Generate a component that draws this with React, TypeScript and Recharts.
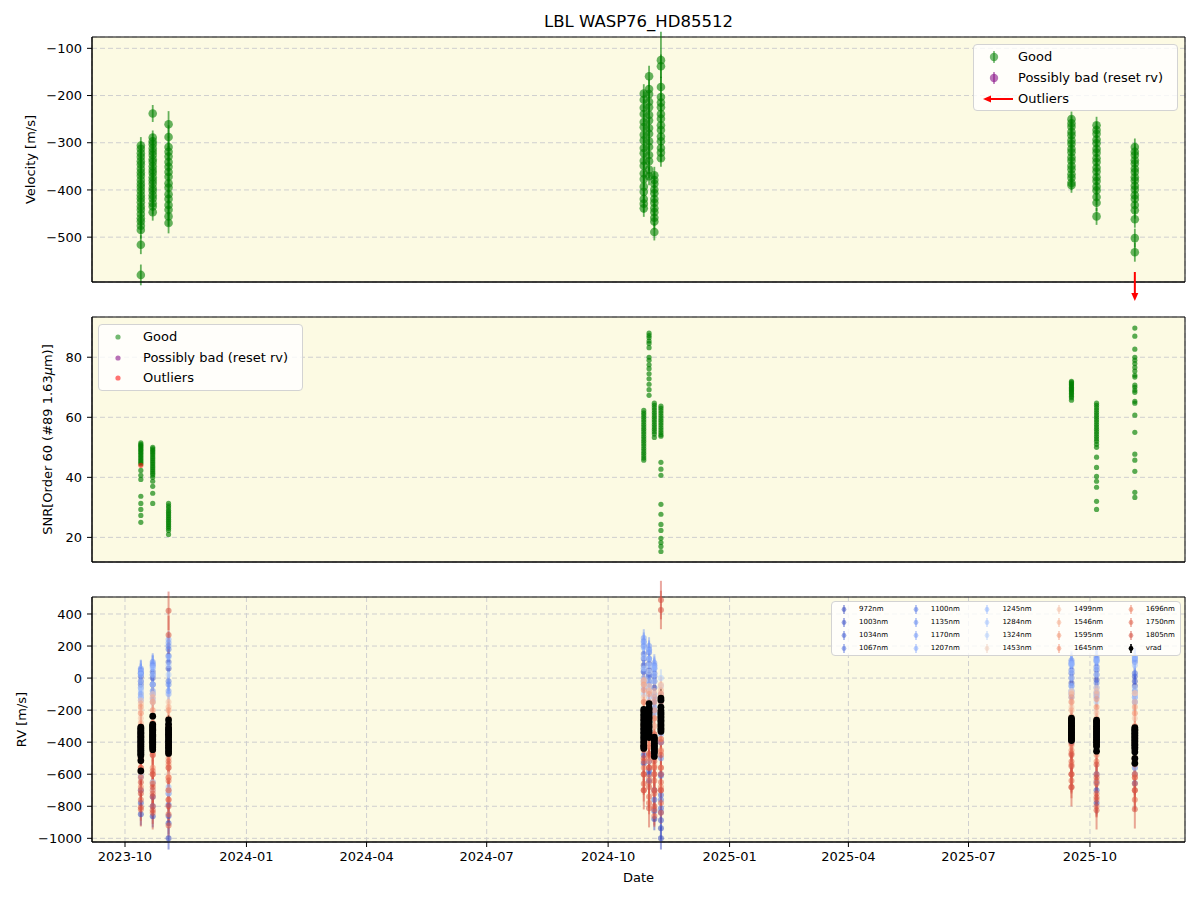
import React from "react";
import {
  ScatterChart,
  Scatter,
  XAxis,
  YAxis,
  CartesianGrid,
  ErrorBar,
  ReferenceDot,
  ReferenceArea,
  Label,
} from "recharts";

// observation nights (one column of points each)
const nights = [
  "2023-10-13", "2023-10-22", "2023-11-03",
  "2024-10-28", "2024-11-01", "2024-11-05", "2024-11-10",
  "2025-09-17", "2025-10-06", "2025-11-04",
];

// velocity [m/s] as [value, error] for each night
const velocity: number[][][] = [
  [[-306, 18], [-313, 16], [-322, 17], [-330, 15], [-339, 18], [-346, 16], [-355, 17], [-363, 15], [-370, 16], [-379, 18], [-387, 17], [-394, 16], [-402, 18], [-411, 15], [-418, 17], [-426, 16], [-435, 18], [-442, 17], [-451, 16], [-460, 18], [-467, 17], [-476, 16], [-485, 18], [-516, 20], [-580, 22]],
  [[-238, 18], [-289, 15], [-297, 16], [-303, 15], [-312, 17], [-319, 16], [-326, 15], [-335, 16], [-341, 17], [-350, 15], [-358, 16], [-364, 17], [-373, 15], [-380, 16], [-387, 17], [-396, 15], [-402, 16], [-411, 17], [-418, 15], [-428, 16], [-435, 17], [-447, 18]],
  [[-261, 28], [-288, 25], [-309, 22], [-319, 20], [-329, 22], [-341, 21], [-351, 20], [-362, 22], [-372, 21], [-386, 20], [-395, 22], [-409, 21], [-419, 20], [-432, 22], [-442, 21], [-456, 20], [-470, 22]],
  [[-196, 20], [-209, 18], [-226, 19], [-239, 18], [-256, 17], [-267, 19], [-283, 18], [-295, 17], [-311, 19], [-322, 18], [-338, 17], [-349, 19], [-365, 18], [-377, 17], [-393, 19], [-404, 18], [-419, 17], [-429, 19], [-439, 18]],
  [[-159, 22], [-186, 20], [-197, 19], [-213, 20], [-225, 18], [-241, 19], [-253, 20], [-269, 18], [-281, 19], [-297, 20], [-309, 18], [-326, 19], [-339, 20], [-357, 18], [-371, 19]],
  [[-369, 18], [-379, 16], [-387, 17], [-399, 16], [-407, 18], [-419, 17], [-427, 16], [-439, 17], [-447, 18], [-459, 16], [-467, 17], [-489, 18]],
  [[-125, 60], [-138, 25], [-182, 22], [-203, 20], [-215, 18], [-225, 19], [-239, 18], [-249, 20], [-263, 19], [-273, 18], [-287, 19], [-297, 20], [-311, 18], [-321, 19], [-333, 18]],
  [[-250, 16], [-259, 15], [-266, 16], [-277, 15], [-284, 16], [-295, 15], [-302, 16], [-313, 15], [-320, 16], [-331, 15], [-338, 16], [-349, 15], [-356, 16], [-367, 15], [-374, 16], [-385, 15], [-390, 16]],
  [[-263, 18], [-273, 17], [-281, 18], [-293, 17], [-301, 18], [-313, 17], [-321, 18], [-333, 17], [-341, 18], [-353, 17], [-361, 18], [-373, 17], [-381, 18], [-393, 17], [-401, 18], [-415, 17], [-427, 18], [-456, 18]],
  [[-309, 18], [-319, 17], [-326, 18], [-337, 17], [-344, 18], [-355, 17], [-362, 18], [-373, 17], [-380, 18], [-391, 17], [-399, 18], [-411, 17], [-419, 18], [-432, 17], [-443, 18], [-462, 18], [-502, 20], [-532, 20]],
];
const velocityOutliers = [{ night: 9, v: -1190 }];

// SNR in order 60 for each night
const snr: number[][] = [
  [51.5, 51, 50.6, 50.2, 49.8, 49.3, 48.9, 48.4, 48, 47.5, 47, 46.5, 46, 45.5, 45, 44.5, 42.3, 40.7, 39.3, 33.7, 31.3, 29.3, 27.3, 25],
  [50, 49.5, 49, 48.5, 48, 47.4, 46.8, 46.2, 45.6, 45, 44.4, 43.8, 43.2, 42.6, 42, 41.4, 40.8, 40, 38.7, 37, 34.7, 31.3],
  [31.3, 30.5, 29.8, 29, 28.4, 27.8, 27.2, 26.6, 26, 25.4, 24.8, 24.2, 23.6, 23, 22.3, 21],
  [62.3, 61.5, 60.8, 60, 59.2, 58.4, 57.6, 56.8, 56, 55.2, 54.4, 53.6, 52.8, 52, 51.2, 50.4, 49.6, 48.8, 48, 47.2, 46.4, 45.7],
  [88, 87.2, 86.5, 85.4, 84.6, 83.2, 80, 79, 77.5, 76.2, 74.5, 72.8, 71, 69.2, 67.3],
  [64.7, 64, 63.2, 62.4, 61.6, 60.8, 60, 59.2, 58.4, 57.6, 56.8, 56, 55.2, 54.4, 53.3],
  [63.7, 63, 62.2, 61.4, 60.6, 59.8, 59, 58.2, 57.4, 56.6, 55.8, 55, 54.2, 53.7, 45, 42.7, 40.7, 31, 27.7, 24.3, 22.3, 19.7, 18.3, 17, 15.3],
  [72, 71.6, 71.2, 70.8, 70.4, 70, 69.6, 69.2, 68.8, 68.4, 68, 67.5, 67, 66.5, 65.7],
  [64.7, 64, 63.2, 62.4, 61.6, 60.8, 60, 59.2, 58.4, 57.6, 56.8, 56, 55.2, 54.4, 53.6, 52.8, 52, 51, 50, 46.7, 43.3, 40.3, 38.7, 36.7, 32, 29.3],
  [89.7, 87, 82.7, 80, 79, 77.9, 76.6, 75.4, 74, 73.4, 70.7, 70, 69, 68.3, 65.3, 64.7, 60.7, 55, 47.7, 45.7, 42, 35, 33.3],
];
const snrOutliers = [{ night: 0, v: 44 }];

// per-band RV, one list of values per night
const bandNames = ["972nm", "1003nm", "1034nm", "1067nm", "1100nm", "1135nm", "1170nm", "1207nm", "1245nm", "1284nm", "1324nm", "1453nm", "1499nm", "1546nm", "1595nm", "1645nm", "1696nm", "1750nm", "1805nm"];
const bandColors = ["#3b4cc0", "#4358cb", "#4b64d5", "#5572df", "#5f7fe8", "#6c8ff1", "#7a9df8", "#88abfd", "#98b9ff", "#a7c5fe", "#b7cff9", "#eecfbf", "#f4c3ab", "#f6b093", "#f39b7b", "#f29072", "#ec7f63", "#e0654f", "#d65244"];
const bandErrors = [70, 60, 60, 55, 60, 55, 55, 55, 55, 55, 55, 60, 50, 50, 55, 55, 60, 70, 120];
const bandRv: number[][][] = [
  [[-850, -20], [-862, -40], [-906, -1000], [-531, 40], [-600, 20], [-880, -60], [-937, -1000], [-400, -30], [-780, -10], [-656, -50]],
  [[-780, 10], [-800, 0], [-860, 60], [-480, 80], [-640, 50], [-830, -20], [-887, -837], [-350, 0], [-700, 20], [-600, -20]],
  [[-700, 30], [-740, 40], [-790, 100], [-420, 120], [-580, 90], [-760, 10], [-812, -730], [-300, 30], [-650, 50], [-560, 10]],
  [[-610, -40], [-650, 20], [-720, 140], [-380, 150], [-520, 120], [-700, 30], [-760, -610], [-250, 50], [-600, 70], [-520, 30]],
  [[-60, 50], [-40, 80], [-20, 180], [60, 200], [10, 160], [-100, 60], [-600, -400], [-50, 90], [-30, 110], [-80, 100]],
  [[-100, 30], [-80, 100], [-40, 200], [40, 230], [-20, 180], [-120, 80], [-500, -300], [-80, 112], [-60, 131], [-100, 120]],
  [[-120, 60], [-100, 90], [-80, 220], [0, 250], [-40, 200], [-150, 94], [-400, -200], [-100, 100], [-90, 120], [-120, 131]],
  [[-140, 40], [-130, 70], [-100, 240], [-20, 219], [-60, 170], [-180, 70], [-350, -150], [-120, 80], [-110, 100], [-150, 110]],
  [[-80, 20], [-100, 60], [-680, 131], [-30, 190], [-80, 120], [-220, 60], [-300, -100], [-50, 90], [-120, 110], [-150, 131]],
  [[-120, -20], [-150, 20], [-700, 80], [-60, 130], [-120, 80], [-200, 20], [-250, -50], [-80, 40], [-100, 60], [-120, 80]],
  [[-620, -60], [-700, -40], [-720, 20], [-100, 60], [-150, 40], [-200, -20], [-200, 0], [-100, 0], [-150, 20], [-560, -60]],
  [[-600, -200], [-650, -150], [-700, -600], [-200, -40], [-250, -80], [-300, -100], [-150, -50], [-150, -80], [-200, -60], [-600, -94]],
  [[-250, -140], [-280, -100], [-300, -150], [-120, -20], [-200, -50], [-250, -80], [-100, -40], [-180, -90], [-220, -80], [-250, -94]],
  [[-280, -160, -380], [-300, -120, -420], [-350, -180, -470], [-150, -12, -250], [-250, -80, -360], [-300, -120, -430], [-120, -75, -260], [-200, -100, -300], [-250, -100, -350], [-300, -150, -400]],
  [[-320, -180, -440], [-350, -150, -480], [-400, -200, -560], [-200, -40, -330], [-300, -100, -420], [-350, -150, -500], [-200, -100, -380], [-240, -120, -340], [-300, -130, -420], [-350, -180, -460]],
  [[-420, -220, -520], [-450, -200, -560], [-500, -250, -620], [-300, -75, -420], [-400, -150, -520], [-450, -200, -600], [-300, -150, -460], [-300, -150, -420], [-350, -180, -480], [-400, -220, -520]],
  [[-560, -300, -420, -680, -500], [-600, -280, -460, -700, -380], [-620, -300, -470, -760, -540], [-450, -150, -300, -560, -380], [-500, -200, -350, -620, -430], [-550, -250, -420, -700, -480], [-450, -250, -560, -680, -380], [-450, -250, -350, -540, -300], [-520, -260, -400, -640, -330], [-500, -300, -420, -620, -360]],
  [[-700, -450, -560, -760, -620, -820], [-720, -400, -580, -800, -660, -840], [-760, -350, -520, -850, -640, -920], [-600, -250, -420, -660, -520, -700], [-650, -300, -480, -740, -560, -780], [-720, -350, -560, -820, -640, -860], [-650, -400, -700, -780, -560, -840], [-600, -406, -520, -640, -470, -680], [-720, -420, -600, -760, -660, -800], [-660, -400, -540, -760, -620, -700]],
  [[-806, -650, -500, -720, -580, -400], [-825, -600, -480, -740, -680, -380], [420, 269, -560, -700, -420, -800], [-700, -500, -600, -420], [-812, -560, -680, -470], [-800, -600, -700, -520], [487, 425, -600, -480, -700], [-681, -550, -600, -480], [-825, -744, -620, -540], [-819, -700, -600, -500]],
];

const monthTicks = ["2023-10-01", "2024-01-01", "2024-04-01", "2024-07-01", "2024-10-01", "2025-01-01", "2025-04-01", "2025-07-01", "2025-10-01"];
const velTicks = [-500, -400, -300, -200, -100];
const snrTicks = [20, 40, 60, 80];
const rvTicks = [-1000, -800, -600, -400, -200, 0, 200, 400];

const BG = "#fcfae3";
const GOOD = "#008000";
const BAD = "#800080";
const FONT = "'DejaVu Sans', sans-serif";

const toDay = (s: string) => Date.parse(s + "T00:00:00Z") / 86400000;
const xDomain: [number, number] = [toDay("2023-09-06"), toDay("2025-12-12")];
const velDomain: [number, number] = [-595, -76];
const snrDomain: [number, number] = [11.8, 93.4];
const rvDomain: [number, number] = [-1023, 506];
const fmtMonth = (d: number) => new Date(d * 86400000).toISOString().slice(0, 7);
const fmtNum = (v: number) => (v < 0 ? "\u2212" + Math.abs(v) : String(v));

const velPts = velocity.flatMap((list, i) => list.map(([v, e]) => ({ x: toDay(nights[i]), y: v, e })));
const snrPts = snr.flatMap((list, i) => list.map((v) => ({ x: toDay(nights[i]), y: v })));
const snrOutPts = snrOutliers.map((o) => ({ x: toDay(nights[o.night]), y: o.v }));
const bandPts = bandRv.map((b, k) =>
  b.flatMap((list, i) => list.map((v) => ({ x: toDay(nights[i]), y: v, e: bandErrors[k] })))
);

const dot = (r: number, fill: string, op: number) => (p: any) =>
  <circle cx={p.cx} cy={p.cy} r={r} fill={fill} fillOpacity={op} />;

const arrowDown = (p: any) => (
  <g>
    <line x1={p.cx} y1={p.cy - 10} x2={p.cx} y2={p.cy + 12} stroke="red" strokeWidth={2} />
    <path d={`M${p.cx - 3.5},${p.cy + 11}L${p.cx + 3.5},${p.cy + 11}L${p.cx},${p.cy + 19}Z`} fill="red" />
  </g>
);

const yLabel = (text: React.ReactNode, cx: number) => (props: any) => {
  const vb = props.viewBox;
  const cy = vb.y + vb.height / 2;
  return (
    <text x={cx} y={cy} transform={`rotate(-90 ${cx} ${cy})`} textAnchor="middle" dominantBaseline="central" fontSize={13} fill="#000">
      {text}
    </text>
  );
};

const dateLabel = (props: any) => {
  const vb = props.viewBox;
  return (
    <text x={vb.x + vb.width / 2} y={vb.y + 35} textAnchor="middle" dominantBaseline="central" fontSize={13} fill="#000">
      Date
    </text>
  );
};

function Panel(props: any) {
  const { top, height, marginTop, xHeight, yDomain, yTicks, label, labelX, showDates, children } = props;
  return (
    <div style={{ position: "absolute", left: 0, top }}>
      <ScatterChart width={1200} height={height} margin={{ top: marginTop, right: 15, bottom: 0, left: 0 }}>
        <CartesianGrid stroke="#cfcfcf" strokeDasharray="5 3" fill={BG} fillOpacity={1} />
        <XAxis
          type="number"
          dataKey="x"
          domain={xDomain}
          ticks={monthTicks.map(toDay)}
          interval={0}
          allowDataOverflow
          height={xHeight}
          tick={showDates ? { fill: "#000", fontSize: 13 } : false}
          tickFormatter={fmtMonth}
          tickSize={5}
          tickMargin={5}
          axisLine={{ stroke: "#000" }}
          tickLine={{ stroke: "#000" }}
        >
          {showDates && <Label content={dateLabel} />}
        </XAxis>
        <YAxis
          type="number"
          dataKey="y"
          domain={yDomain}
          ticks={yTicks}
          interval={0}
          allowDataOverflow
          width={92}
          tick={{ fill: "#000", fontSize: 13 }}
          tickFormatter={fmtNum}
          tickSize={5}
          tickMargin={5}
          axisLine={{ stroke: "#000" }}
          tickLine={{ stroke: "#000" }}
        >
          <Label content={yLabel(label, labelX)} />
        </YAxis>
        <ReferenceArea x1={xDomain[0]} x2={xDomain[1]} y1={yDomain[0]} y2={yDomain[1]} fill="none" stroke="#000" strokeWidth={1} ifOverflow="visible" />
        {children}
      </ScatterChart>
    </div>
  );
}

const legendBox = { position: "absolute" as const, background: "rgba(255,255,255,0.8)", border: "1px solid #d3d3d3", borderRadius: 4, boxSizing: "border-box" as const };

function ErrDot({ color, r, len, op }: { color: string; r: number; len: number; op: number }) {
  return (
    <svg width={20} height={2 * len + 2} style={{ position: "absolute", left: -10, top: -len - 1 }}>
      <line x1={10} y1={1} x2={10} y2={2 * len + 1} stroke={color} strokeOpacity={op} strokeWidth={1.6} />
      <circle cx={10} cy={len + 1} r={r} fill={color} fillOpacity={op} />
    </svg>
  );
}

function TopLegend() {
  const rows = [
    { label: "Good", color: GOOD, kind: "dot" },
    { label: "Possibly bad (reset rv)", color: BAD, kind: "dot" },
    { label: "Outliers", color: "red", kind: "arrow" },
  ];
  return (
    <div style={{ ...legendBox, left: 973, top: 44, width: 205, height: 67 }}>
      {rows.map((r, i) => (
        <div key={r.label} style={{ position: "absolute", left: 0, top: 12 + i * 21, width: "100%" }}>
          <div style={{ position: "absolute", left: 20, top: 0 }}>
            {r.kind === "dot" ? (
              <ErrDot color={r.color} r={4.2} len={6} op={0.55} />
            ) : (
              <svg width={32} height={12} style={{ position: "absolute", left: -12, top: -6 }}>
                <line x1={31} y1={6} x2={6} y2={6} stroke="red" strokeWidth={2} />
                <path d="M1,6L9,2.5L9,9.5Z" fill="red" />
              </svg>
            )}
          </div>
          <div style={{ position: "absolute", left: 44, top: -9, fontSize: 13, lineHeight: "18px", whiteSpace: "nowrap" }}>{r.label}</div>
        </div>
      ))}
    </div>
  );
}

function MidLegend() {
  const rows = [
    { label: "Good", color: GOOD },
    { label: "Possibly bad (reset rv)", color: BAD },
    { label: "Outliers", color: "red" },
  ];
  return (
    <div style={{ ...legendBox, left: 98, top: 324, width: 205, height: 67 }}>
      {rows.map((r, i) => (
        <div key={r.label} style={{ position: "absolute", left: 0, top: 12 + i * 20.5, width: "100%" }}>
          <svg width={10} height={10} style={{ position: "absolute", left: 14, top: -5 }}>
            <circle cx={5} cy={5} r={2.6} fill={r.color} fillOpacity={0.55} />
          </svg>
          <div style={{ position: "absolute", left: 44, top: -9, fontSize: 13, lineHeight: "18px", whiteSpace: "nowrap" }}>{r.label}</div>
        </div>
      ))}
    </div>
  );
}

function BandLegend() {
  const items = [
    ...bandNames.map((n, i) => ({ label: n, color: bandColors[i], op: 0.55 })),
    { label: "vrad", color: "#000", op: 1 },
  ];
  return (
    <div style={{ ...legendBox, left: 831, top: 601, width: 350, height: 55 }}>
      {items.map((it, i) => {
        const col = Math.floor(i / 4);
        const row = i % 4;
        return (
          <div key={it.label} style={{ position: "absolute", left: 12 + col * 71.7, top: 7 + row * 13 }}>
            <ErrDot color={it.color} r={2.4} len={4.5} op={it.op} />
            <div style={{ position: "absolute", left: 15, top: -5, fontSize: 7, lineHeight: "10px", whiteSpace: "nowrap" }}>{it.label}</div>
          </div>
        );
      })}
    </div>
  );
}

export default function App() {
  return (
    <div style={{ position: "absolute", left: 0, top: 0, width: 1200, height: 900, background: "#fff", fontFamily: FONT, color: "#000" }}>
      <div style={{ position: "absolute", left: 92, width: 1093, top: 12, textAlign: "center", fontSize: 16.5 }}>LBL WASP76_HD85512</div>

      <Panel top={0} height={305} marginTop={37} xHeight={23} yDomain={velDomain} yTicks={velTicks} label="Velocity [m/s]" labelX={30}>
        <Scatter data={velPts} isAnimationActive={false} shape={dot(4.3, GOOD, 0.6)}>
          <ErrorBar dataKey="e" direction="y" width={0} stroke="rgba(0,128,0,0.6)" strokeWidth={1.8} isAnimationActive={false} />
        </Scatter>
        {velocityOutliers.map((o, i) => (
          <ReferenceDot key={i} x={toDay(nights[o.night])} y={Math.max(o.v, velDomain[0])} r={0} ifOverflow="visible" shape={arrowDown} />
        ))}
      </Panel>

      <Panel top={300} height={280} marginTop={17} xHeight={18} yDomain={snrDomain} yTicks={snrTicks}
        label={<>SNR[Order 60 (#89 1.63<tspan fontStyle="italic">μ</tspan>m)]</>} labelX={47}>
        <Scatter data={snrPts} isAnimationActive={false} shape={dot(2.6, GOOD, 0.65)} />
        <Scatter data={snrOutPts} isAnimationActive={false} shape={dot(2.6, "red", 0.55)} />
      </Panel>

      <Panel top={580} height={320} marginTop={17} xHeight={58} yDomain={rvDomain} yTicks={rvTicks} label="RV [m/s]" labelX={21} showDates>
        {bandPts.map((pts, k) => (
          <Scatter key={bandNames[k]} data={pts} isAnimationActive={false} shape={dot(3, bandColors[k], 0.55)}>
            <ErrorBar dataKey="e" direction="y" width={0} stroke={bandColors[k]} strokeOpacity={0.5} strokeWidth={2} isAnimationActive={false} />
          </Scatter>
        ))}
        <Scatter data={velPts} isAnimationActive={false} shape={dot(3.4, "#000", 1)}>
          <ErrorBar dataKey="e" direction="y" width={0} stroke="#000" strokeWidth={1} isAnimationActive={false} />
        </Scatter>
      </Panel>

      <TopLegend />
      <MidLegend />
      <BandLegend />
    </div>
  );
}
